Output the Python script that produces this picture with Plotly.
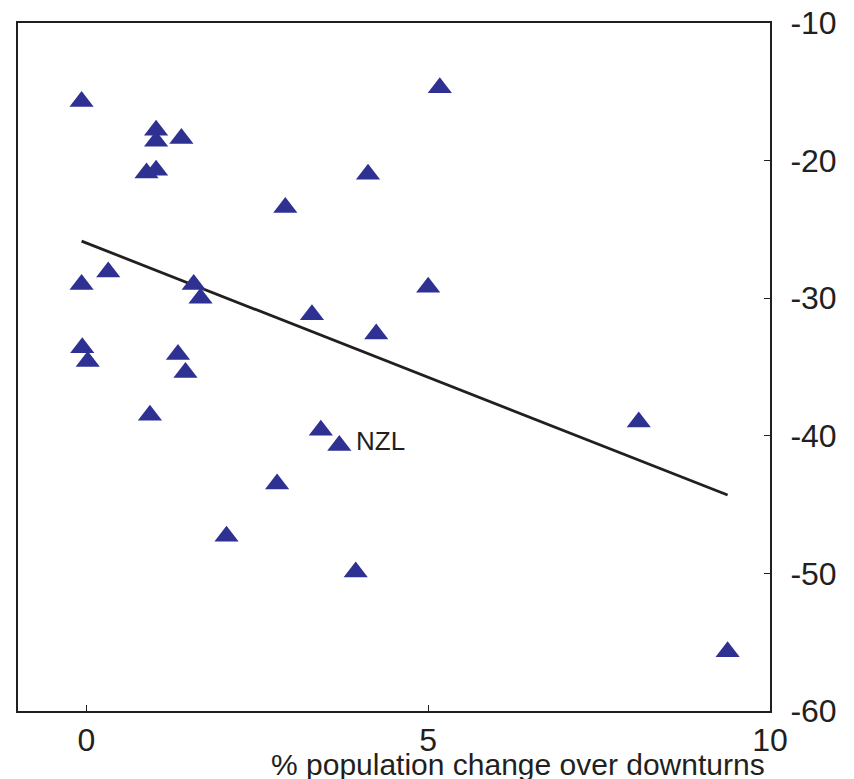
import plotly.graph_objects as go

# Data
pop_change = [-0.07, 1.02, 1.02, 1.39, 0.88, 1.02, 2.91, 5.17, 4.12,
              -0.07, 0.32, 1.57, 1.67, 3.30, 5.00, 4.24, -0.06, 0.02,
              1.34, 1.45, 0.93, 3.43, 3.70, 2.79, 2.05, 3.94, 8.08, 9.38]
outcome = [-15.7, -17.8, -18.6, -18.4, -20.9, -20.7, -23.4, -14.7, -21.0,
           -29.0, -28.1, -29.0, -30.0, -31.2, -29.2, -32.6, -33.6, -34.6,
           -34.1, -35.4, -38.5, -39.6, -40.7, -43.5, -47.3, -49.9, -39.0, -55.7]
labels = [""] * 22 + ["NZL"] + [""] * 5

fit_x = [-0.07, 9.38]
fit_y = [-25.85, -44.3]

x_ticks = [0, 5, 10]
y_ticks = [-10, -20, -30, -40, -50, -60]

FONT = "Liberation Sans, Arial, Helvetica, sans-serif"
INK = "#231F20"
BLUE = "#2E3192"

fig = go.Figure()
fig.add_trace(go.Scatter(x=fit_x, y=fit_y, mode="lines",
                         line=dict(color=INK, width=2.8), showlegend=False,
                         hoverinfo="skip"))
fig.add_trace(go.Scatter(x=pop_change, y=outcome, mode="markers",
                         marker=dict(symbol="triangle-up", size=21, color=BLUE,
                                     line=dict(width=0)),
                         showlegend=False))

for xv, yv, lab in zip(pop_change, outcome, labels):
    if lab:
        fig.add_annotation(x=xv, y=yv, text=lab, showarrow=False,
                           xanchor="left", yanchor="middle", xshift=15, yshift=4,
                           font=dict(family=FONT, size=26, color=INK))

fig.add_annotation(xref="paper", yref="paper", x=0.665, y=-0.078,
                   text="% population change over downturns", showarrow=False,
                   xanchor="center", yanchor="middle",
                   font=dict(family=FONT, size=30, color=INK))

fig.update_layout(
    width=854, height=779,
    margin=dict(l=10, r=92, t=15, b=76),
    paper_bgcolor="white", plot_bgcolor="white",
    font=dict(family=FONT, color=INK),
    xaxis=dict(range=[-1, 10], tickvals=x_ticks, ticktext=[str(v) for v in x_ticks],
               ticks="inside", ticklen=6, tickwidth=1, tickcolor=INK,
               showline=True, linecolor=INK, linewidth=2, mirror=True,
               showgrid=False, zeroline=False, automargin=False,
               ticklabeloverflow="allow",
               tickfont=dict(family=FONT, size=32, color=INK)),
    yaxis=dict(range=[-60, -10], tickvals=y_ticks, ticktext=[str(v) for v in y_ticks],
               side="right", ticks="inside", ticklen=6, tickwidth=1, tickcolor=INK,
               showline=True, linecolor=INK, linewidth=2, mirror=True,
               showgrid=False, zeroline=False, ticklabelstandoff=12, automargin=False,
               ticklabeloverflow="allow",
               tickfont=dict(family=FONT, size=32, color=INK)),
)

fig.write_html("out.html")
